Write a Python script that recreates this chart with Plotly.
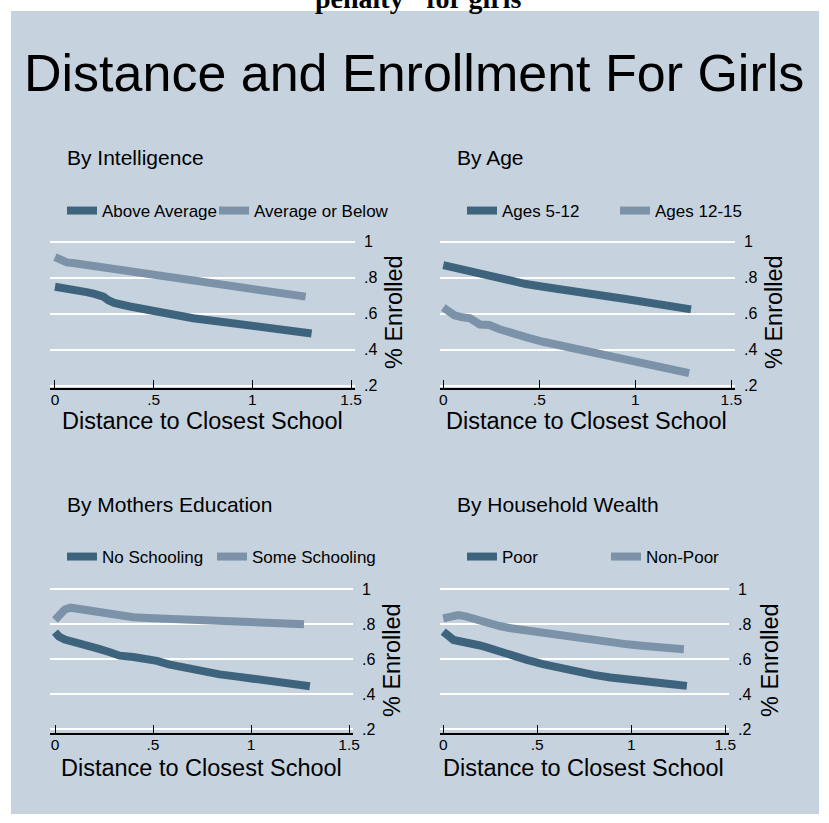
import plotly.graph_objects as go

W, H = 829, 823
BG = "#c6d3df"
DARK = "#3e647d"
LIGHT = "#7b92a8"
FONT = "Liberation Sans, Arial, sans-serif"

# ---------------- data ----------------
# Panel 1: By Intelligence
dist_above = [0, 0.04, 0.08, 0.12, 0.16, 0.2, 0.245, 0.27, 0.3, 0.38, 0.45, 0.5, 0.57, 0.63, 0.7, 0.84, 0.92, 1.0, 1.08, 1.17, 1.24, 1.30]
enr_above = [0.75, 0.745, 0.735, 0.73, 0.72, 0.71, 0.695, 0.675, 0.66, 0.64, 0.625, 0.61, 0.595, 0.585, 0.575, 0.555, 0.542, 0.53, 0.52, 0.508, 0.498, 0.49]
dist_below = [0, 0.03, 0.06, 0.1, 0.16, 0.22, 0.3, 0.4, 0.5, 0.6, 0.7, 0.8, 0.9, 1.0, 1.1, 1.2, 1.27]
enr_below = [0.915, 0.895, 0.885, 0.88, 0.87, 0.862, 0.852, 0.835, 0.815, 0.80, 0.78, 0.763, 0.748, 0.733, 0.72, 0.707, 0.695]

# Panel 2: By Age
dist_young = [0, 0.03, 0.07, 0.12, 0.17, 0.23, 0.3, 0.35, 0.43, 0.52, 0.6, 0.7, 0.8, 0.87, 0.95, 1.04, 1.12, 1.22, 1.29]
enr_young = [0.87, 0.862, 0.855, 0.845, 0.83, 0.815, 0.795, 0.78, 0.765, 0.75, 0.735, 0.717, 0.703, 0.694, 0.682, 0.667, 0.655, 0.639, 0.624]
dist_old = [0, 0.03, 0.06, 0.1, 0.14, 0.19, 0.24, 0.29, 0.35, 0.43, 0.52, 0.6, 0.7, 0.78, 0.87, 0.96, 1.04, 1.13, 1.22, 1.28]
enr_old = [0.635, 0.61, 0.59, 0.58, 0.574, 0.54, 0.537, 0.515, 0.491, 0.47, 0.444, 0.426, 0.398, 0.378, 0.358, 0.34, 0.324, 0.305, 0.287, 0.27]

# Panel 3: By Mothers Education
dist_noschool = [0, 0.02, 0.05, 0.1, 0.16, 0.22, 0.28, 0.33, 0.4, 0.47, 0.52, 0.58, 0.67, 0.75, 0.84, 0.93, 1.01, 1.1, 1.18, 1.25, 1.30]
enr_noschool = [0.755, 0.73, 0.712, 0.70, 0.675, 0.66, 0.64, 0.62, 0.612, 0.603, 0.59, 0.57, 0.548, 0.53, 0.513, 0.5, 0.487, 0.475, 0.463, 0.452, 0.445]
dist_someschool = [0, 0.02, 0.05, 0.08, 0.11, 0.15, 0.2, 0.26, 0.33, 0.4, 0.5, 0.6, 0.7, 0.8, 0.9, 1.0, 1.1, 1.2, 1.27]
enr_someschool = [0.825, 0.85, 0.885, 0.895, 0.89, 0.875, 0.865, 0.855, 0.845, 0.84, 0.835, 0.83, 0.825, 0.82, 0.82, 0.815, 0.81, 0.805, 0.80]

# Panel 4: By Household Wealth
dist_poor = [0, 0.03, 0.055, 0.1, 0.144, 0.19, 0.232, 0.27, 0.303, 0.37, 0.445, 0.53, 0.622, 0.71, 0.8, 0.89, 0.977, 1.07, 1.154, 1.23, 1.296]
enr_poor = [0.758, 0.73, 0.71, 0.70, 0.695, 0.68, 0.668, 0.655, 0.634, 0.62, 0.596, 0.572, 0.549, 0.528, 0.51, 0.495, 0.482, 0.472, 0.463, 0.455, 0.447]
dist_nonpoor = [0, 0.04, 0.08, 0.12, 0.18, 0.25, 0.3, 0.36, 0.45, 0.53, 0.62, 0.71, 0.8, 0.89, 0.98, 1.07, 1.17, 1.28]
enr_nonpoor = [0.834, 0.84, 0.853, 0.845, 0.825, 0.8, 0.79, 0.777, 0.762, 0.75, 0.735, 0.72, 0.707, 0.695, 0.685, 0.676, 0.666, 0.657]

panel_titles = ["By Intelligence", "By Age", "By Mothers Education", "By Household Wealth"]
series_names = [("Above Average", "Average or Below"), ("Ages 5-12", "Ages 12-15"),
                ("No Schooling", "Some Schooling"), ("Poor", "Non-Poor")]
series_data = [
    ((dist_above, enr_above), (dist_below, enr_below)),
    ((dist_young, enr_young), (dist_old, enr_old)),
    ((dist_noschool, enr_noschool), (dist_someschool, enr_someschool)),
    ((dist_poor, enr_poor), (dist_nonpoor, enr_nonpoor)),
]
x_tickvals = [0, 0.5, 1, 1.5]
x_ticktext = ["0", ".5", "1", "1.5"]
y_tickvals = [0.2, 0.4, 0.6, 0.8, 1.0]
y_ticktext = [".2", ".4", ".6", ".8", "1"]
main_title = "Distance and Enrollment For Girls"
caption_tail = 'penalty" for girls'
x_title = "Distance to Closest School"
y_title = "% Enrolled"

# ---------------- layout geometry (pixels) ----------------
def fx(p):
    return p / W

def fy(p):
    return 1 - p / H

panels = [
    dict(xd=(50, 355), yd=(236, 388), xr=(-0.0253, 1.520), yr=(0.187, 1.032),
         title_xy=(65, 157), leg_x=(62, 214), leg_y=211,
         xt_xy=(202.5, 421), yt_xy=(394, 312)),
    dict(xd=(440, 735), yd=(236, 388), xr=(-0.017, 1.519), yr=(0.187, 1.032),
         title_xy=(455, 157), leg_x=(462, 615), leg_y=211,
         xt_xy=(586, 421), yt_xy=(774, 312)),
    dict(xd=(50, 353), yd=(585, 733), xr=(-0.0255, 1.520), yr=(0.177, 1.025),
         title_xy=(65, 504), leg_x=(62, 212), leg_y=557,
         xt_xy=(201, 768), yt_xy=(392, 660)),
    dict(xd=(440, 729), yd=(585, 733), xr=(-0.017, 1.52), yr=(0.177, 1.025),
         title_xy=(455, 504), leg_x=(462, 606), leg_y=557,
         xt_xy=(583, 768), yt_xy=(770, 660)),
]

fig = go.Figure()
layout = dict(
    width=W, height=H,
    margin=dict(l=0, r=0, t=0, b=0),
    paper_bgcolor="white", plot_bgcolor="rgba(0,0,0,0)",
    font=dict(family=FONT, color="black"),
    shapes=[dict(type="rect", xref="paper", yref="paper",
                 x0=fx(11), x1=fx(819), y0=fy(814), y1=fy(11),
                 fillcolor=BG, line=dict(width=0), layer="below")],
    annotations=[],
)

leg_idx = 0
for i, (pan, names, data) in enumerate(zip(panels, series_names, series_data)):
    ax = "" if i == 0 else str(i + 1)
    for j, ((xs, ys), name, col) in enumerate(zip(data, names, (DARK, LIGHT))):
        leg_idx += 1
        key = "legend" if leg_idx == 1 else "legend%d" % leg_idx
        fig.add_trace(go.Scatter(
            x=xs, y=ys, name=name, mode="lines",
            line=dict(color=col, width=8),
            xaxis="x" + ax, yaxis="y" + ax,
            legend=key, showlegend=True,
        ))
        layout[key] = dict(
            orientation="h", x=fx(pan["leg_x"][j]), xanchor="left",
            y=fy(pan["leg_y"]), yanchor="middle",
            bgcolor="rgba(0,0,0,0)", borderwidth=0,
            font=dict(size=17, color="black"),
        )

for i, pan in enumerate(panels):
    ax = "" if i == 0 else str(i + 1)
    layout["xaxis" + ax] = dict(
        domain=[fx(pan["xd"][0]), fx(pan["xd"][1])],
        anchor="y" + ax, range=list(pan["xr"]),
        tickvals=x_tickvals, ticktext=x_ticktext,
        ticks="inside", ticklen=8, tickwidth=1.3, tickcolor="black",
        showline=True, linecolor="black", linewidth=1.5,
        showgrid=False, zeroline=False,
        tickfont=dict(size=15.5, color="black"), ticklabelstandoff=-3,
        automargin=False, fixedrange=True,
    )
    layout["yaxis" + ax] = dict(
        domain=[fy(pan["yd"][1]), fy(pan["yd"][0])],
        anchor="x" + ax, range=list(pan["yr"]), side="right",
        tickvals=y_tickvals, ticktext=y_ticktext,
        ticks="", showline=False, zeroline=False,
        showgrid=True, gridcolor="white", gridwidth=1.5,
        tickfont=dict(size=16, color="black"), ticklabelstandoff=8,
        automargin=False, fixedrange=True,
    )
    layout["annotations"].append(dict(
        text=panel_titles[i], xref="paper", yref="paper",
        x=fx(pan["title_xy"][0]), y=fy(pan["title_xy"][1]),
        xanchor="left", yanchor="middle", showarrow=False,
        font=dict(size=21, color="black"),
    ))
    layout["annotations"].append(dict(
        text=x_title, xref="paper", yref="paper",
        x=fx(pan["xt_xy"][0]), y=fy(pan["xt_xy"][1]),
        xanchor="center", yanchor="middle", showarrow=False,
        font=dict(size=23.5, color="black"),
    ))
    layout["annotations"].append(dict(
        text=y_title, xref="paper", yref="paper", textangle=-90,
        x=fx(pan["yt_xy"][0]), y=fy(pan["yt_xy"][1]),
        xanchor="center", yanchor="middle", showarrow=False,
        font=dict(size=23.5, color="black"),
    ))

layout["annotations"].append(dict(
    text=main_title, xref="paper", yref="paper",
    x=fx(414), y=fy(73), xanchor="center", yanchor="middle",
    showarrow=False, font=dict(size=52, color="black"),
))
layout["annotations"].append(dict(
    text="<b>" + caption_tail + "</b>", xref="paper", yref="paper",
    x=fx(418), y=fy(-1), xanchor="center", yanchor="middle",
    showarrow=False, font=dict(size=28, color="black",
                               family="Liberation Serif, Times New Roman, serif"),
))

fig.update_layout(**layout)
fig.write_html("out.html")
